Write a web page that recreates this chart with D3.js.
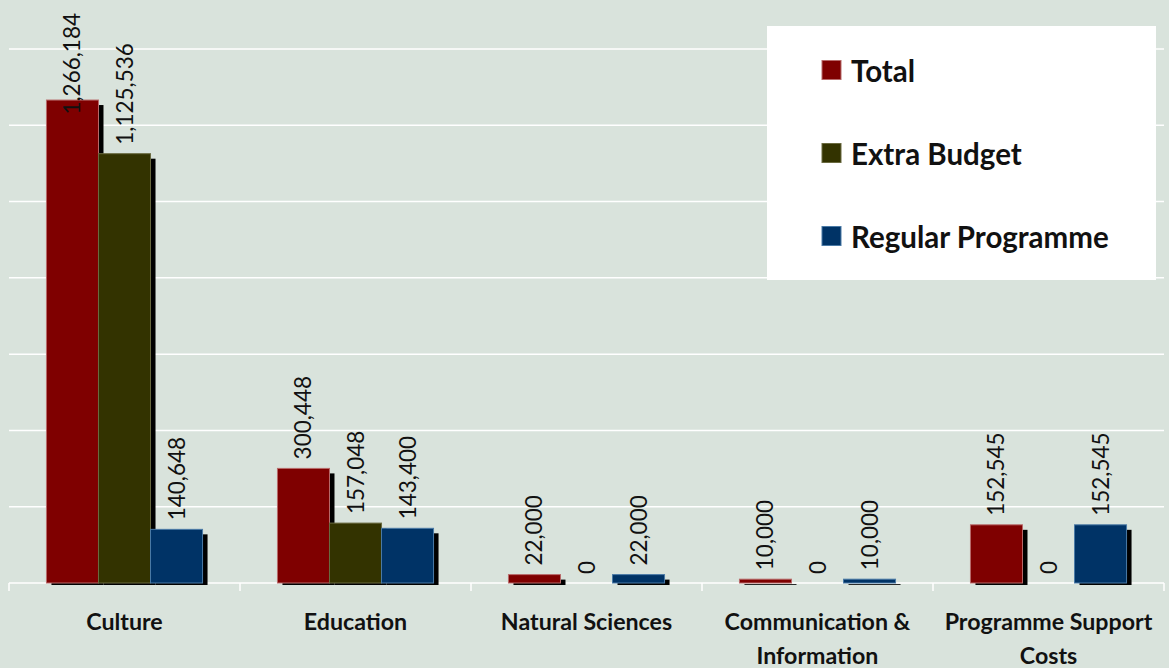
<!DOCTYPE html>
<html><head><meta charset="utf-8">
<script src="https://cdn.jsdelivr.net/npm/d3@7"></script>
<style>
html,body{margin:0;padding:0;background:#d9e3dc;}
svg{display:block;}
</style></head>
<body>
<svg id="chart" width="1169" height="668"></svg>
<script>
const categories = [["Culture"],["Education"],["Natural Sciences"],["Communication &","Information"],["Programme Support","Costs"]];
const seriesNames = ["Total","Extra Budget","Regular Programme"];
const totalValues = [1266184, 300448, 22000, 10000, 152545];
const extraBudgetValues = [1125536, 157048, 0, 0, 0];
const regularValues = [140648, 143400, 22000, 10000, 152545];
const yTicks = [0,200000,400000,600000,800000,1000000,1200000,1400000];
const colors = ["#7f0000","#333300","#003366"];
const strokes = ["#b86a6a","#6a6a40","#4a7aa6"];

const svg = d3.select("#chart");
const W = 1169, H = 668;
svg.append("rect").attr("width",W).attr("height",H).attr("fill","#d9e3dc");

const x0 = 9, x1 = 1164, yBase = 583, yTop = 49;
const catKeys = categories.map((c,i)=>i);
const x = d3.scaleBand().domain(catKeys).range([x0,x1]).padding(0);
const xs = d3.scaleBand().domain(seriesNames).range([0,x.bandwidth()]).paddingInner(0).paddingOuter(0.72);
const y = d3.scaleLinear().domain([0,1400000]).range([yBase,yTop]);

// gridlines
svg.append("g").selectAll("line").data(yTicks).join("line")
  .attr("x1",x0).attr("x2",x1).attr("y1",d=>y(d)).attr("y2",d=>y(d))
  .attr("stroke","#ffffff").attr("stroke-width",1.5);

// x axis ticks at category boundaries
const bounds = catKeys.map(k=>x(k)).concat([x1]);
svg.append("g").selectAll("line").data(bounds).join("line")
  .attr("x1",d=>d).attr("x2",d=>d).attr("y1",yBase).attr("y2",yBase+8)
  .attr("stroke","#ffffff").attr("stroke-width",1.5);

const seriesData = [totalValues, extraBudgetValues, regularValues];
const bars = [];
seriesData.forEach((vals,si)=>{
  vals.forEach((v,ci)=>{
    bars.push({si, ci, v, x: x(ci)+xs(seriesNames[si]), w: xs.bandwidth(), y: y(v)});
  });
});

const gb = svg.append("g");
// shadows
gb.selectAll("rect.sh").data(bars.filter(b=>b.v>0)).join("rect").attr("class","sh")
  .attr("x",b=>b.x+5).attr("y",b=>b.y+5).attr("width",b=>b.w)
  .attr("height",b=>Math.max(0,(yBase+2)-(b.y+5))).attr("fill","#000");
seriesData.forEach((vals,si)=>{
  gb.append("g").selectAll("rect").data(bars.filter(b=>b.si===si && b.v>0)).join("rect")
    .attr("x",b=>b.x).attr("y",b=>b.y).attr("width",b=>b.w).attr("height",b=>yBase-b.y)
    .attr("fill",colors[si]).attr("stroke",strokes[si]).attr("stroke-width",1);
});

// value labels
const fmt = d3.format(",");
const lab = svg.append("g").attr("font-family","Lato, 'Open Sans', sans-serif").attr("font-size",22.5).attr("fill","#111");
bars.forEach(b=>{
  const cx = b.x + b.w/2;
  const t = lab.append("text").text(fmt(b.v)).attr("text-anchor","start");
  const len = t.node().getComputedTextLength();
  let yy = b.y - 9;
  if (yy - len < 13) yy = 13 + len;
  t.attr("transform",`translate(${cx+8},${yy}) rotate(-90)`);
});

// category labels
const cl = svg.append("g").attr("font-family","Lato, 'Open Sans', sans-serif").attr("font-size",23.2).attr("font-weight","bold").attr("fill","#111").attr("text-anchor","middle");
categories.forEach((lines,ci)=>{
  const cx = x(ci)+x.bandwidth()/2;
  lines.forEach((ln,li)=>{
    cl.append("text").attr("x",cx).attr("y",630+li*34).text(ln);
  });
});

// legend
const lg = svg.append("g");
lg.append("rect").attr("x",767).attr("y",26).attr("width",389).attr("height",254).attr("fill","#ffffff");
seriesNames.forEach((n,i)=>{
  const cy = 70 + i*83;
  lg.append("rect").attr("x",822).attr("y",cy-9.5).attr("width",19).attr("height",19)
    .attr("fill",colors[i]).attr("stroke",strokes[i]).attr("stroke-width",1);
  lg.append("text").attr("x",851).attr("y",cy+12).text(n)
    .attr("font-family","Lato, 'Open Sans', sans-serif").attr("font-size",29.5).attr("font-weight","bold").attr("fill","#111");
});
</script>
</body></html>
